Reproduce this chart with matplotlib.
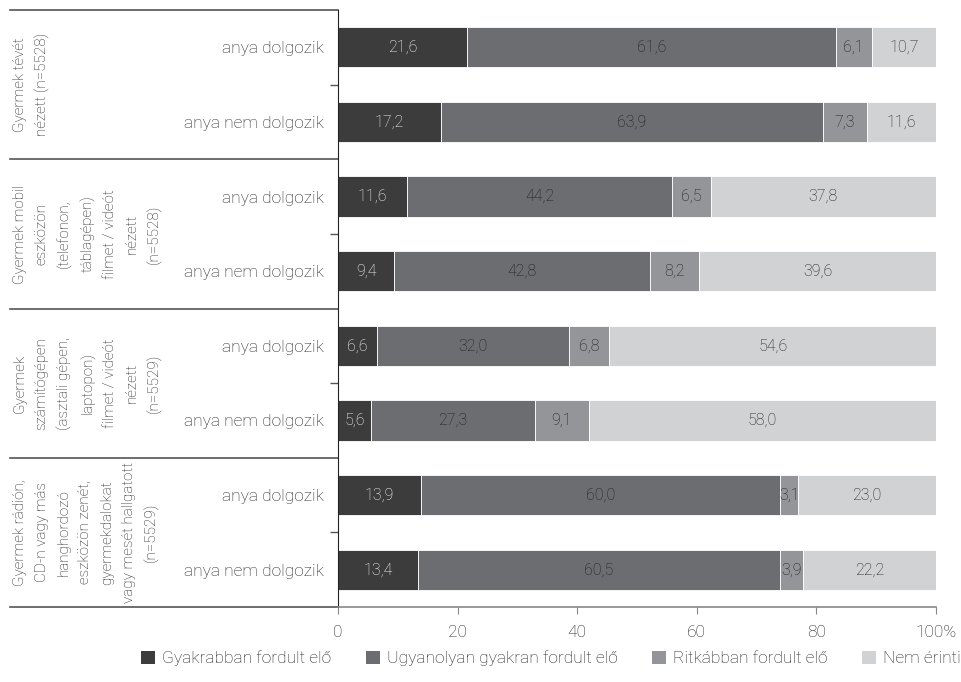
import matplotlib
matplotlib.use("Agg")
import matplotlib.pyplot as plt
import matplotlib.transforms as mtransforms
from matplotlib.patches import Patch

plt.rcParams["font.family"] = ["Roboto", "DejaVu Sans"]
plt.rcParams["font.weight"] = "light"

CATEGORIES = ["anya dolgozik", "anya nem dolgozik"] * 4
GROUPS = [
    "Gyermek tévét\nnézett (n=5528)",
    "Gyermek mobil\neszközön\n(telefonon,\ntáblagépen)\nfilmet / videót\nnézett\n(n=5528)",
    "Gyermek\nszámítógépen\n(asztali gépen,\nlaptopon)\nfilmet / videót\nnézett\n(n=5529)",
    "Gyermek rádión,\nCD-n vagy más\nhanghordozó\neszközön zenét,\ngyermekdalokat\nvagy mesét hallgatott\n(n=5529)",
]
SERIES = ["Gyakrabban fordult elő", "Ugyanolyan gyakran fordult elő",
          "Ritkábban fordult elő", "Nem érinti"]
gyakrabban = [21.6, 17.2, 11.6, 9.4, 6.6, 5.6, 13.9, 13.4]
ugyanolyan = [61.6, 63.9, 44.2, 42.8, 32.0, 27.3, 60.0, 60.5]
ritkabban = [6.1, 7.3, 6.5, 8.2, 6.8, 9.1, 3.1, 3.9]
nem_erinti = [10.7, 11.6, 37.8, 39.6, 54.6, 58.0, 23.0, 22.2]
X_TICKS = [0, 20, 40, 60, 80, 100]
X_TICK_LABELS = ["0", "20", "40", "60", "80", "100%"]

COLORS = ["#3c3c3c", "#6c6d70", "#939598", "#d1d2d4"]
TXT = "#1e1e1e"
TEXT_COLORS = ["white", TXT, TXT, TXT]

fig = plt.figure(figsize=(9.62, 6.82), dpi=100)
ax = fig.add_axes([338 / 962, 1 - 607 / 682, 598 / 962, 597 / 682])

ypos = list(range(len(CATEGORIES)))
left = [0.0] * len(CATEGORIES)
for vals, col, tcol in zip([gyakrabban, ugyanolyan, ritkabban, nem_erinti], COLORS, TEXT_COLORS):
    bars = ax.barh(ypos, vals, left=left, height=0.54, color=col,
                   edgecolor="white", linewidth=0.6)
    ax.bar_label(bars, labels=[f"{v:.1f}".replace(".", ",") for v in vals],
                 label_type="center", color=tcol, fontsize=11.5)
    left = [l + v for l, v in zip(left, vals)]

ax.set_xlim(0, 100)
ax.set_ylim(len(CATEGORIES) - 0.5, -0.5)
ax.set_xticks(X_TICKS)
ax.set_xticklabels(X_TICK_LABELS, fontsize=12.5, color=TXT)
ax.set_yticks(ypos)
ax.set_yticklabels(CATEGORIES, fontsize=12.5, color=TXT)
ax.set_yticks([0.5, 2.5, 4.5, 6.5], minor=True)
ax.tick_params(axis="y", which="major", length=0, pad=10)
ax.tick_params(axis="y", which="minor", length=6, color="#555555", width=1)
ax.tick_params(axis="x", length=5, color="#888888", pad=8)

for s in ["top", "right"]:
    ax.spines[s].set_visible(False)
ax.spines["left"].set_color("#222222")
ax.spines["bottom"].set_color("#888888")
ax.spines["bottom"].set_linewidth(1.2)

# group separators and group labels
trans_line = mtransforms.blended_transform_factory(ax.transAxes, ax.transData)
x0 = (10 - 338) / 598
for b in [-0.5, 1.5, 3.5, 5.5, 7.5]:
    ax.plot([x0, 0], [b, b], color="#555555", lw=1.2, transform=trans_line, clip_on=False)

trans_txt = mtransforms.blended_transform_factory(fig.transFigure, ax.transData)
for i, g in enumerate(GROUPS):
    ax.text(13 / 962, 2 * i + 0.5, g, transform=trans_txt, rotation=90,
            ha="left", va="center", multialignment="center",
            fontsize=11, color=TXT, linespacing=1.7)

handles = [Patch(facecolor=c, edgecolor="none") for c in COLORS]
fig.legend(handles, SERIES, loc="lower center", bbox_to_anchor=(0.573, 0.0),
           ncol=4, frameon=False, fontsize=12.5, handlelength=0.8, handleheight=0.8,
           handletextpad=0.4, columnspacing=2.0, labelcolor=TXT)

fig.savefig("out.png", dpi=100)
